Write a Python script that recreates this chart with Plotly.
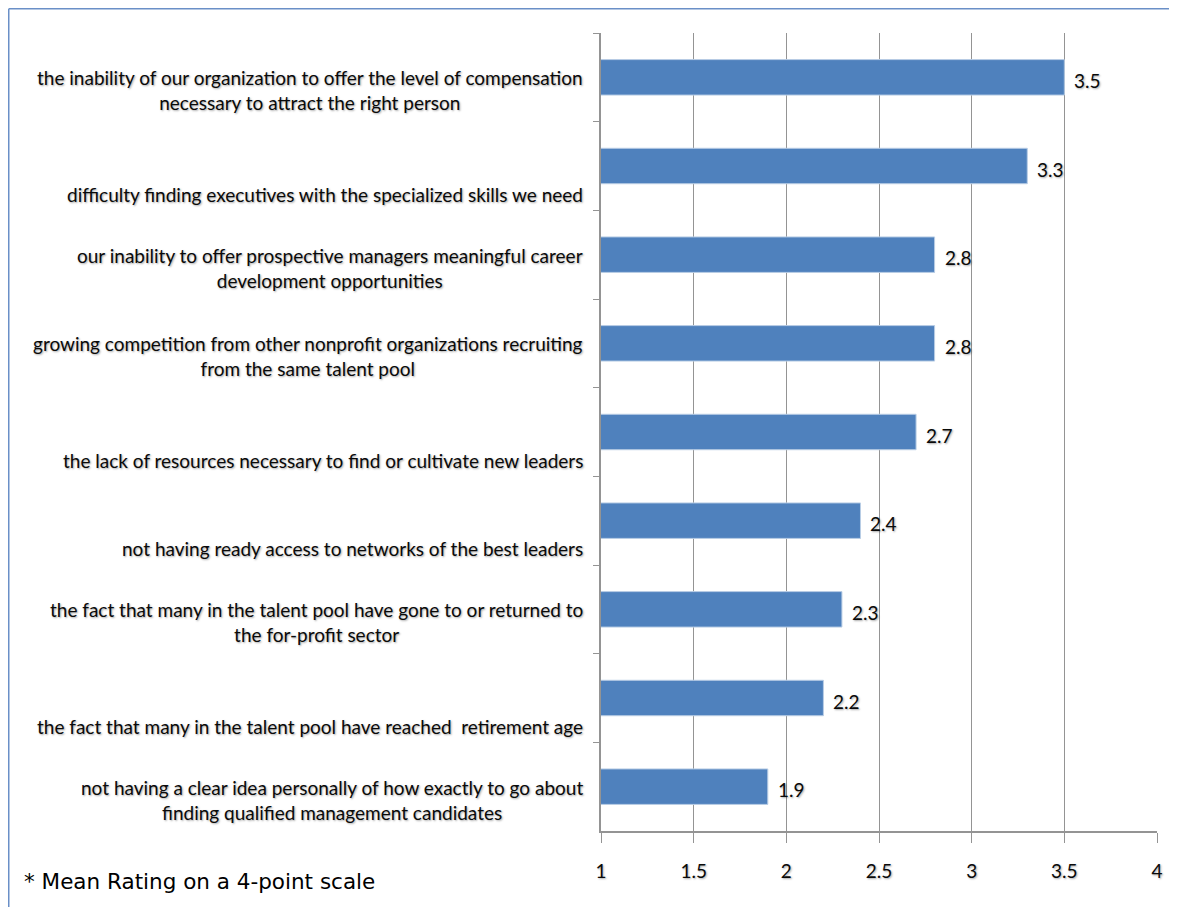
import plotly.graph_objects as go

categories = [
    "the inability of our organization to offer the level of compensation necessary to attract the right person",
    "difficulty finding executives with the specialized skills we need",
    "our inability to offer prospective managers meaningful career development opportunities",
    "growing competition from other nonprofit organizations recruiting from the same talent pool",
    "the lack of resources necessary to find or cultivate new leaders",
    "not having ready access to networks of the best leaders",
    "the fact that many in the talent pool have gone to or returned to the for-profit sector",
    "the fact that many in the talent pool have reached  retirement age",
    "not having a clear idea personally of how exactly to go about finding qualified management candidates",
]
display_labels = [
    "the inability of our organization to offer the level of compensation<br>necessary to attract the right person",
    "difficulty finding executives with the specialized skills we need",
    "our inability to offer prospective managers meaningful career<br>development opportunities",
    "growing competition from other nonprofit organizations recruiting<br>from the same talent pool",
    "the lack of resources necessary to find or cultivate new leaders",
    "not having ready access to networks of the best leaders",
    "the fact that many in the talent pool have gone to or returned to<br>the for-profit sector",
    "the fact that many in the talent pool have reached  retirement age",
    "not having a clear idea personally of how exactly to go about<br>finding qualified management candidates",
]
values = [3.5, 3.3, 2.8, 2.8, 2.7, 2.4, 2.3, 2.2, 1.9]
x_ticks = [1, 1.5, 2, 2.5, 3, 3.5, 4]
x_tick_text = ["1", "1.5", "2", "2.5", "3", "3.5", "4"]
footnote = "* Mean Rating on a 4-point scale"

# page body has an 8px margin; figure sized to fit the window
W, H = 1169, 899
ML, MR, MT, MB = 593, 20, 25, 76
PW, PH = W - ML - MR, H - MT - MB

FONT = "Lato, Liberation Sans, sans-serif"
FS = 19
SHADOW = "1px 1px 2px rgba(0,0,0,0.35)"

fig = go.Figure()
fig.add_trace(go.Bar(
    x=values, y=categories, orientation="h", base=0,
    marker=dict(color="#4f81bd", line=dict(color="#b9cde5", width=1)),
    width=0.4, showlegend=False, hoverinfo="x+y",
))

annotations = []
for cat, lab in zip(categories, display_labels):
    two = "<br>" in lab
    annotations.append(dict(
        x=0, xref="paper", xanchor="right", xshift=-16,
        y=cat, yref="y", yanchor="middle", yshift=-13 if two else -28,
        text=lab, showarrow=False, align="center",
        font=dict(family=FONT, size=FS, color="#0a0a0a", shadow=SHADOW),
    ))
for cat, v in zip(categories, values):
    annotations.append(dict(
        x=v, xref="x", xanchor="left", xshift=8,
        y=cat, yref="y", yanchor="middle", yshift=-3,
        text=f"{v:.1f}", showarrow=False,
        font=dict(family=FONT, size=FS, color="#0a0a0a", shadow=SHADOW),
    ))
annotations.append(dict(
    x=(14 - ML) / PW, xref="paper", xanchor="left",
    y=-(873 - (MT + PH)) / PH, yref="paper", yanchor="middle",
    text=footnote, showarrow=False,
    font=dict(family="DejaVu Sans, Verdana, sans-serif", size=21.5, color="#000"),
))

frame_color = "#6a8fc7"
fx = (0.75 - ML) / PW
fy = 1 + (MT - 0.75) / PH
shapes = [
    dict(type="line", xref="paper", yref="paper",
         x0=fx, x1=fx, y0=fy, y1=-(H - MT - PH) / PH,
         line=dict(color=frame_color, width=1.5)),
    dict(type="line", xref="paper", yref="paper",
         x0=fx, x1=1 + MR / PW, y0=fy, y1=fy,
         line=dict(color=frame_color, width=1.5)),
]

fig.update_layout(
    width=W, height=H,
    margin=dict(l=ML, r=MR, t=MT, b=MB),
    paper_bgcolor="white", plot_bgcolor="white",
    bargap=0.6,
    annotations=annotations, shapes=shapes,
    xaxis=dict(
        range=[1, 4], tickvals=x_ticks, ticktext=x_tick_text,
        showgrid=True, gridcolor="#949494", gridwidth=1,
        showline=True, linecolor="#949494", linewidth=1.5,
        ticks="outside", ticklen=10, tickcolor="#949494",
        ticklabelstandoff=12,
        tickfont=dict(family=FONT, size=FS, color="#0a0a0a", shadow=SHADOW),
        zeroline=False, fixedrange=True,
    ),
    yaxis=dict(
        autorange="reversed", showticklabels=False,
        showline=True, linecolor="#949494", linewidth=1.5,
        ticks="outside", ticklen=6, tickcolor="#949494", tickson="boundaries",
        showgrid=False, fixedrange=True,
    ),
)

fig.write_html("out.html")
